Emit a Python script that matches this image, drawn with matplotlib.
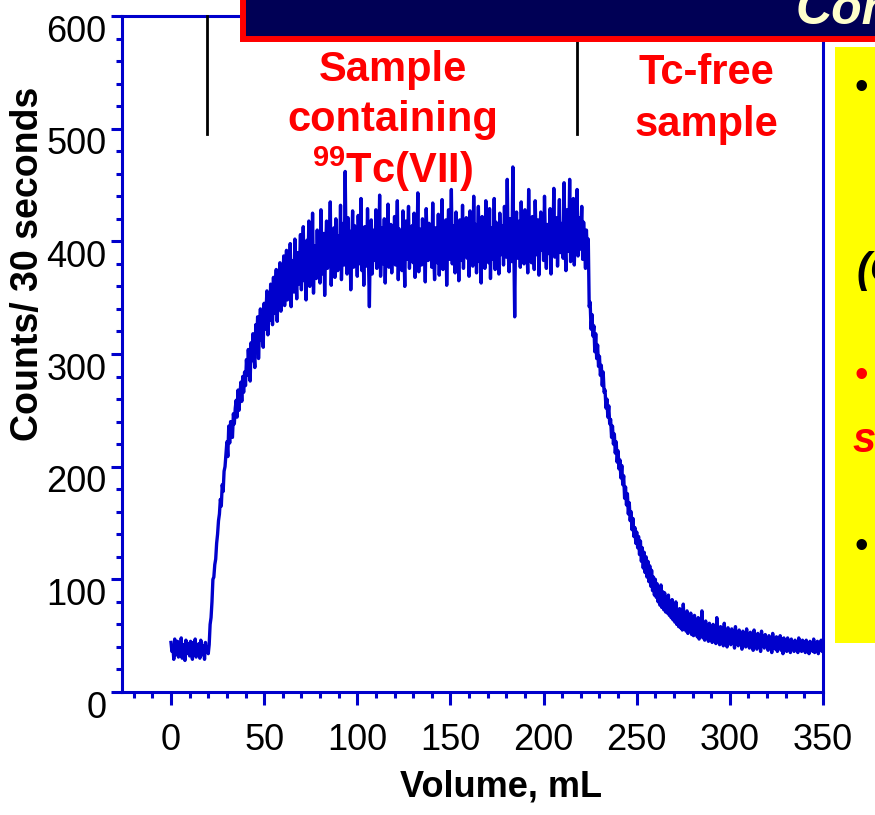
import numpy as np
import matplotlib
matplotlib.use("Agg")
import matplotlib.pyplot as plt
from matplotlib.patches import Rectangle
from matplotlib.ticker import MultipleLocator
from matplotlib.transforms import ScaledTranslation

plt.rcParams['font.family'] = ['Liberation Sans', 'DejaVu Sans']
plt.rcParams['mathtext.fontset'] = 'custom'
plt.rcParams['mathtext.rm'] = 'Liberation Sans'
plt.rcParams['mathtext.bf'] = 'Liberation Sans:bold'

# counts every 0.5 mL (one row = 10 mL)
counts = [
    44, 36, 41, 29, 47, 33, 38, 45, 31, 40, 35, 48, 30, 42, 37, 28, 46, 34, 39, 43,
    32, 45, 38, 29, 44, 36, 47, 31, 40, 35, 43, 30, 46, 37, 33, 41, 29, 44, 36, 39,
    34, 42, 60, 66, 80, 100, 102, 113, 118, 132, 140, 152, 158, 171, 165, 184, 178, 196, 200, 211,
    222, 209, 236, 221, 240, 228, 226, 247, 238, 252, 259, 244, 268, 250, 262, 275, 258, 280, 266, 284,
    272, 295, 281, 304, 289, 276, 310, 294, 318, 301, 288, 326, 309, 333, 296, 321, 340, 312, 329, 306,
    345, 322, 338, 356, 317, 349, 330, 362, 341, 326, 368, 336, 352, 375, 329, 358, 346, 381, 338, 364,
    350, 387, 343, 369, 392, 348, 376, 359, 398, 342, 383, 366, 355, 402, 371, 349, 390, 362, 378, 406,
    357, 384, 413, 365, 392, 348, 401, 376, 418, 360, 389, 371, 425, 354, 396, 382, 367, 410, 375, 399,
    363, 428, 385, 371, 407, 352, 394, 418, 376, 402, 388, 435, 361, 397, 380, 412, 368, 420, 391, 374,
    405, 383, 432, 366, 398, 416, 379, 462, 390, 371, 421, 384, 409, 357, 395, 427, 377, 414, 388, 401,
    369, 423, 392, 380, 438, 374, 406, 361, 413, 395, 378, 429, 385, 342, 402, 419, 371, 398, 410, 383,
    428, 376, 401, 387, 441, 369, 394, 412, 380, 420, 363, 405, 391, 433, 377, 399, 415, 372, 408, 386,
    422, 379, 397, 436, 366, 411, 389, 403, 374, 427, 392, 360, 418, 384, 400, 431, 376, 409, 395, 414,
    381, 425, 368, 402, 390, 443, 373, 411, 396, 379, 420, 387, 406, 364, 429, 398, 383, 416, 392, 401,
    377, 434, 389, 366, 412, 397, 381, 424, 370, 405, 393, 437, 375, 410, 386, 419, 361, 402, 428, 384,
    398, 446, 380, 414, 391, 372, 426, 387, 407, 365, 419, 395, 383, 432, 376, 409, 400, 421, 385, 413,
    369, 427, 394, 405, 378, 440, 388, 415, 372, 403, 431, 382, 398, 363, 422, 393, 410, 376, 436, 390,
    404, 381, 429, 367, 412, 396, 384, 438, 375, 417, 392, 406, 371, 425, 388, 400, 414, 379, 431, 395,
    386, 455, 391, 373, 420, 402, 382, 466, 397, 333, 410, 426, 385, 404, 418, 377, 435, 392, 409, 380,
    428, 389, 401, 372, 446, 394, 413, 381, 422, 398, 375, 436, 403, 388, 419, 370, 407, 426, 392, 411,
    383, 440, 398, 376, 415, 404, 389, 429, 371, 418, 395, 447, 386, 408, 421, 378, 412, 437, 390, 402,
    416, 385, 452, 397, 374, 428, 406, 391, 455, 382, 419, 401, 438, 379, 412, 398, 446, 387, 421, 393,
    408, 431, 384, 417, 396, 376, 410, 389, 402, 342, 346, 322, 335, 316, 325, 302, 318, 296, 308, 289,
    298, 281, 290, 272, 284, 266, 268, 252, 260, 244, 254, 238, 242, 226, 236, 220, 229, 212, 222, 204,
    214, 198, 206, 190, 201, 184, 192, 172, 182, 166, 176, 158, 168, 152, 160, 144, 154, 138, 146, 132,
    142, 128, 138, 122, 134, 116, 128, 110, 124, 106, 120, 102, 116, 98, 112, 94, 108, 90, 102, 86,
    100, 84, 96, 80, 93, 77, 95, 75, 89, 73, 88, 71, 84, 70, 86, 68, 80, 66, 82, 64,
    76, 62, 80, 60, 72, 58, 74, 57, 70, 55, 78, 56, 68, 54, 72, 52, 66, 55, 70, 51,
    64, 50, 68, 52, 62, 49, 66, 47, 60, 52, 72, 48, 58, 46, 63, 50, 57, 45, 61, 49,
    56, 44, 60, 47, 54, 43, 66, 46, 52, 42, 58, 45, 55, 41, 61, 44, 50, 40, 57, 46,
    53, 42, 56, 45, 50, 39, 58, 44, 51, 41, 55, 43, 49, 38, 54, 45, 52, 40, 56, 43,
    48, 39, 53, 42, 50, 37, 55, 41, 47, 38, 52, 40, 49, 36, 54, 42, 46, 39, 51, 41,
    47, 37, 50, 40, 45, 35, 52, 39, 46, 38, 49, 36, 44, 40, 50, 37, 47, 34, 48, 39,
    45, 36, 48, 39, 44, 35, 47, 38, 43, 36, 46, 39, 42, 35, 48, 37, 44, 36, 46, 38,
    43, 35, 46, 38, 42, 34, 45, 37, 44, 36, 47, 35, 41, 38, 45, 34, 43, 37, 46, 36,
    40,
]
volume = np.arange(len(counts)) * 0.5

marker_volumes = [19.3, 217.9]
left_label = ["Sample", "containing", r"$\mathbf{^{99}}$Tc(VII)"]
right_label = ["Tc-free", "sample"]

blue = '#0000cc'
W, H = 875, 815

fig = plt.figure(figsize=(8.75, 8.15), dpi=100)
ax = fig.add_axes([122 / W, 1 - 692 / H, 701 / W, 676 / H])

ax.plot(volume, counts, color=blue, lw=2.4, zorder=3)
ax.set_xlim(-26.3, 350)
ax.set_ylim(0, 600)

for s in ax.spines.values():
    s.set_color(blue)
    s.set_linewidth(2.2)

ax.xaxis.set_major_locator(MultipleLocator(50))
ax.xaxis.set_minor_locator(MultipleLocator(10))
ax.yaxis.set_major_locator(MultipleLocator(100))
ax.yaxis.set_minor_locator(MultipleLocator(20))
ax.tick_params(axis='x', which='major', length=9.5, width=2.2, color=blue,
               labelsize=26, pad=13)
ax.tick_params(axis='y', which='major', length=8, width=2.2, color=blue,
               labelsize=26, pad=3)
ax.tick_params(which='minor', length=4.5, width=2.2, color=blue)

# y tick labels sit a bit below their ticks in the original
shift = ScaledTranslation(0, -12 / 100, fig.dpi_scale_trans)
for t in ax.yaxis.get_major_ticks():
    t.label1.set_transform(t.label1.get_transform() + shift)

# black separators
for v in marker_volumes:
    ax.plot([v, v], [495, 600], color='black', lw=2, zorder=4, clip_on=False)

# red annotations
for txt, y in zip(left_label, [542.6, 498.2, 452.1]):
    ax.text(119, y, txt, color='red', fontsize=30, fontweight='bold',
            ha='center', va='baseline', zorder=5)
for txt, y in zip(right_label, [539.9, 493.8]):
    ax.text(287.2, y, txt, color='red', fontsize=30, fontweight='bold',
            ha='center', va='baseline', zorder=5)

fig.text(501 / W, 1 - 797 / H, "Volume, mL", fontsize=26, fontweight='bold',
         ha='center', va='baseline')
fig.text(28 / W, 1 - 264 / H, "Counts/ 30 seconds", fontsize=27,
         fontweight='bold', rotation=90, ha='center', va='center')

# slide title bar
fig.add_artist(Rectangle((243 / W, 1 - 39 / H), 1, 0.2, transform=fig.transFigure,
                         facecolor='#000055', edgecolor='#ff0000', lw=4.3,
                         zorder=10))
fig.text(796 / W, 1 - 24 / H, "Conclusions", color='#ffffcc', fontsize=36,
         fontweight='bold', fontstyle='italic', va='baseline', zorder=11)

# yellow side panel
fig.add_artist(Rectangle((835 / W, 1 - 643 / H), 1, 596 / H,
                         transform=fig.transFigure, facecolor='#ffff00',
                         edgecolor='none', zorder=10))
fig.text(855 / W, 1 - 89 / H, "•", fontsize=28, va='center', zorder=11)
fig.text(856 / W, 1 - 282 / H, "(C", fontsize=30, fontweight='bold',
         fontstyle='italic', va='baseline', zorder=11)
fig.text(855 / W, 1 - 377 / H, "•", fontsize=28, color='red', va='center', zorder=11)
fig.text(853 / W, 1 - 452 / H, "s", fontsize=30, fontweight='bold',
         fontstyle='italic', color='red', va='baseline', zorder=11)
fig.text(855 / W, 1 - 548 / H, "•", fontsize=28, va='center', zorder=11)

fig.savefig("out.png", dpi=100)
